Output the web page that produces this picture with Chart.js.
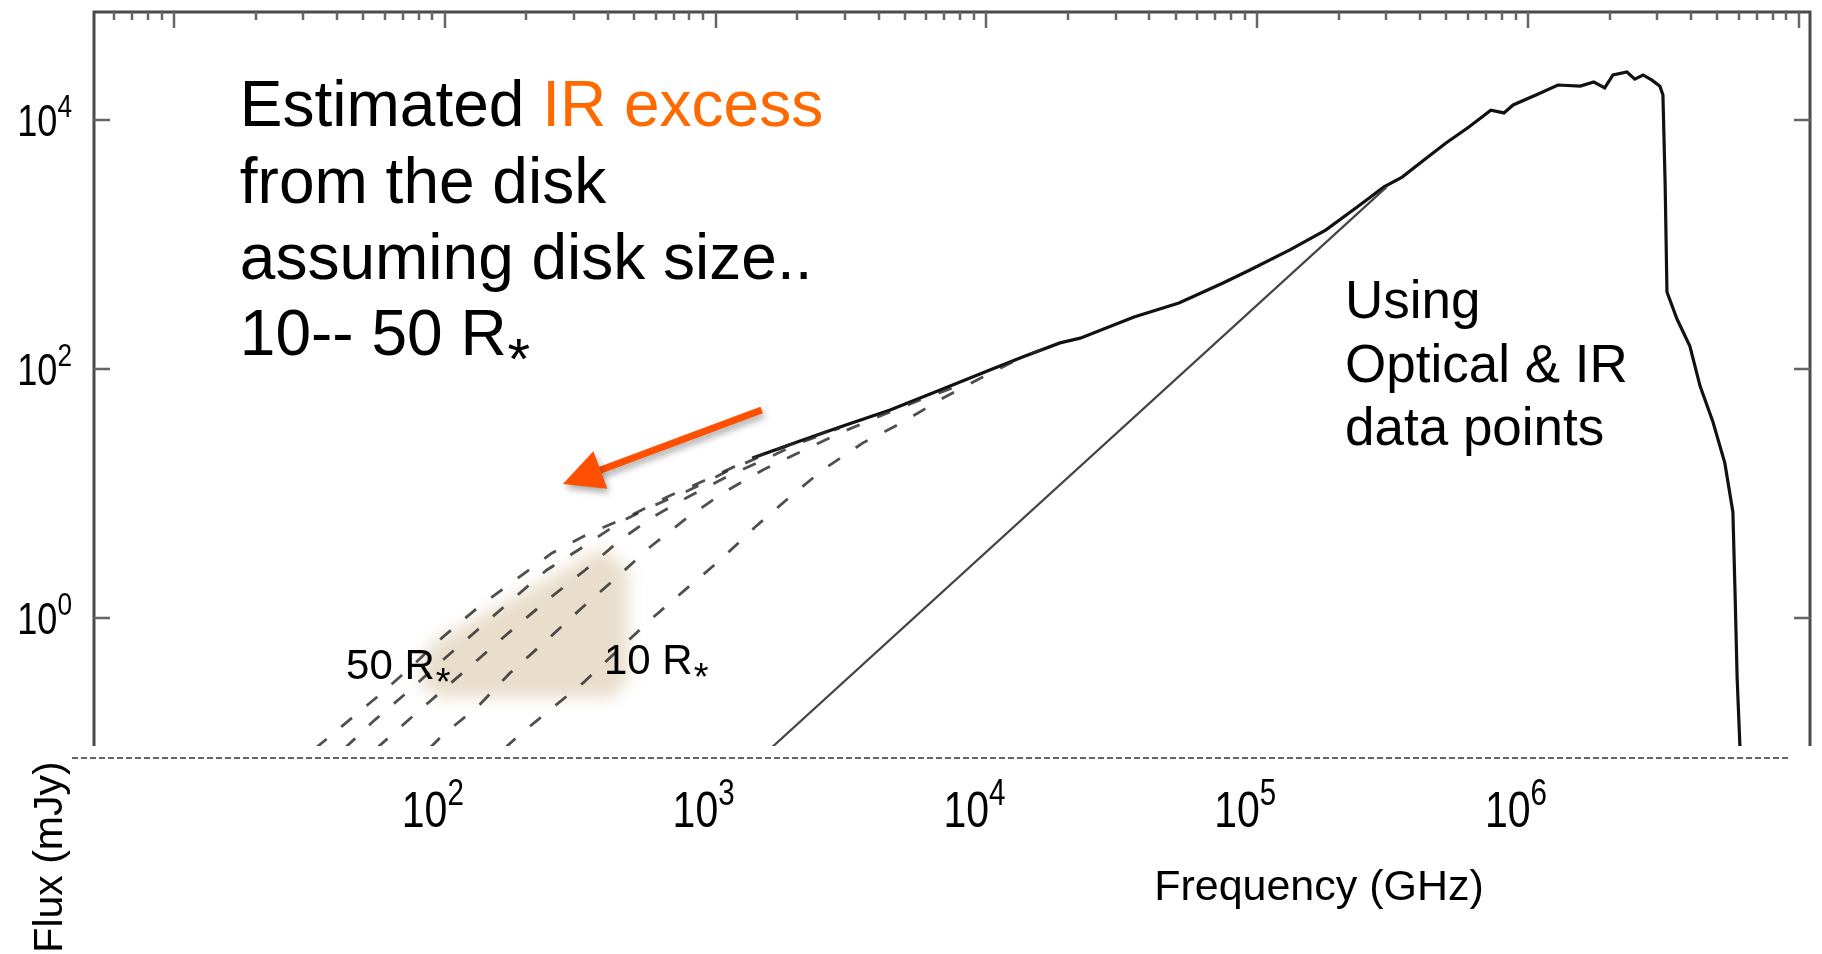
<!DOCTYPE html>
<html>
<head>
<meta charset="utf-8">
<title>Flux vs Frequency</title>
<script src="https://cdn.jsdelivr.net/npm/chart.js@4.4.1/dist/chart.umd.min.js"></script>
<style>
  html, body { margin: 0; padding: 0; background: #fff; }
  #wrap { width: 1822px; height: 954px; position: relative; }
</style>
</head>
<body>
<div id="wrap"><canvas id="sedChart"></canvas></div>
<script>
// frequency in GHz, flux in mJy
const mainFreq = [1370, 2050, 2880, 4410, 6750, 10300, 13600, 18700, 22200, 35100, 51400, 74800, 94000,
    132000, 179000, 234000, 294000, 343000, 413000, 498000, 605000, 729000, 815000, 881000,
    1.07e6, 1.29e6, 1.56e6, 1.75e6, 1.92e6, 2.06e6, 2.32e6, 2.48e6, 2.66e6, 2.87e6, 3.07e6, 3.15e6,
    3.21e6, 3.26e6, 3.55e6, 3.96e6, 4.32e6, 4.82e6, 5.33e6, 5.71e6, 5.81e6, 5.92e6, 6.07e6];
const mainFlux = [19.3, 26.4, 34.2, 46.9, 67.8, 98.2, 125, 162, 177, 262, 339, 491, 624,
    904, 1306, 2000, 2900, 3480, 4780, 6530, 8790, 12000, 11400, 13200,
    15900, 19100, 18700, 20200, 18100, 23000, 24300, 21300, 23000, 20900, 18700, 15900,
    3010, 415, 252, 153, 72.9, 37.5, 17.6, 7.10, 1.74, 0.330, 0.0871];

// stellar photosphere (straight line)
const starFreq = [1590, 301000];
const starFlux = [0.0887, 2900];

// disk models, 50 R* (c1) down to 10 R* (c5)
const c1Freq = [33.4, 41.0, 56.2, 74.3, 98.4, 133, 182, 249, 344, 483, 662, 977, 1370, 2050, 2880];
const c1Flux = [0.0904, 0.131, 0.232, 0.396, 0.703, 1.22, 2.02, 3.33, 4.82, 6.59, 9.38, 13.6, 19.3, 26.4, 34.2];
const c2Freq = [42.8, 55.2, 74.3, 98.4, 132, 177, 238, 324, 444, 587, 804, 1130, 1590, 2230];
const c2Flux = [0.0904, 0.152, 0.264, 0.460, 0.801, 1.40, 2.43, 3.72, 5.90, 7.94, 10.7, 15.5, 21.5, 27.9];
const c3Freq = [56.2, 74.3, 98.4, 132, 177, 240, 330, 444, 587, 791, 1100, 1500, 2050, 2880];
const c3Flux = [0.0904, 0.155, 0.264, 0.460, 0.801, 1.40, 2.43, 4.23, 6.47, 9.38, 13.6, 18.6, 25.5, 33.6];
const c4Freq = [88.1, 98.4, 132, 174, 238, 324, 433, 573, 791, 1080, 1500, 2050, 2880, 4050, 5690, 8000];
const c4Flux = [0.0904, 0.115, 0.193, 0.361, 0.665, 1.23, 2.13, 3.72, 6.47, 10.3, 15.5, 21.5, 30.6, 41.9, 56.4, 74.3];
const c5Freq = [167, 185, 244, 324, 433, 573, 771, 1040, 1400, 1880, 2490, 3500, 4920, 6920, 9700, 13600, 18700];
const c5Flux = [0.0904, 0.111, 0.182, 0.301, 0.543, 0.964, 1.68, 2.92, 5.38, 9.38, 15.5, 25.5, 37.5, 58.5, 86.3, 125, 162];

const xTickExps = [2, 3, 4, 5, 6];
const yTickExps = [0, 2, 4];

const xMin = 5.065, xMax = 1.1e7;
const yMin = 0.0937, yMax = 73700;

// annotation anchors in data units
const shadeFreq = [384, 475, 475, 414, 95.9, 80.9, 86.7];
const shadeFlux = [3.65, 2.43, 0.306, 0.228, 0.228, 0.290, 0.607];
const arrowFrom = { x: 1480, y: 46.9 };
const arrowTo = { x: 273, y: 11.9 };

const FONT = '"Liberation Sans", Arial, Helvetica, sans-serif';
const ORANGE = '#ff6a00';

function font(size) {
    return size + 'px ' + FONT;
}

function toPoints(xs, ys) {
    let pts = [];
    for (let i = 0; i < xs.length; i++) {
        pts.push({ x: xs[i], y: ys[i] });
    }
    return pts;
}

function dashedSet(label, xs, ys) {
    return {
        label: label,
        data: toPoints(xs, ys),
        showLine: true,
        borderColor: 'rgba(40,40,40,0.82)',
        borderWidth: 2.8,
        borderDash: [14, 19],
        pointRadius: 0
    };
}

// "10" with a raised exponent, slightly narrowed; y is the baseline
function drawPower(ctx, exp, x, y, size, align) {
    let squeeze = 0.82;
    let supSize = Math.round(size * 0.72);
    ctx.font = font(size);
    let wBase = ctx.measureText('10').width * squeeze;
    ctx.font = font(supSize);
    let wSup = ctx.measureText(String(exp)).width * squeeze;
    let left = x;
    if (align == 'right') left = x - wBase - wSup;
    if (align == 'center') left = x - (wBase + wSup) / 2;
    ctx.save();
    ctx.textAlign = 'left';
    ctx.translate(left, y);
    ctx.scale(squeeze, 1);
    ctx.font = font(size);
    ctx.fillText('10', 0, 0);
    ctx.font = font(supSize);
    ctx.fillText(String(exp), wBase / squeeze, -size * 0.44);
    ctx.restore();
}

// text ending in R followed by a low asterisk
function drawRStar(ctx, text, x, y, size) {
    ctx.textAlign = 'left';
    ctx.font = font(size);
    ctx.fillText(text, x, y);
    let w = ctx.measureText(text).width;
    let aSize = Math.round(size * 0.9);
    ctx.font = font(aSize);
    ctx.fillText('*', x + w + 1, y + aSize * 0.42);
}

const shadePlugin = {
    id: 'shade',
    beforeDatasetsDraw(chart) {
        const ctx = chart.ctx, xs = chart.scales.x, ys = chart.scales.y;
        ctx.save();
        ctx.filter = 'blur(8px)';
        ctx.fillStyle = 'rgba(224,208,182,0.7)';
        ctx.beginPath();
        for (let i = 0; i < shadeFreq.length; i++) {
            let px = xs.getPixelForValue(shadeFreq[i]);
            let py = ys.getPixelForValue(shadeFlux[i]);
            if (i == 0) ctx.moveTo(px, py); else ctx.lineTo(px, py);
        }
        ctx.closePath();
        ctx.fill();
        ctx.restore();
    }
};

const decorPlugin = {
    id: 'decor',
    afterDatasetsDraw(chart) {
        const ctx = chart.ctx, xs = chart.scales.x, ys = chart.scales.y;
        const area = chart.chartArea;
        ctx.save();

        // frame: top, left, right (the bottom was cut away)
        ctx.strokeStyle = '#4a4a4a';
        ctx.lineWidth = 3;
        ctx.beginPath();
        ctx.moveTo(area.left, area.bottom);
        ctx.lineTo(area.left, area.top);
        ctx.lineTo(area.right, area.top);
        ctx.lineTo(area.right, area.bottom);
        ctx.stroke();

        // inward ticks along the top
        ctx.strokeStyle = '#666';
        ctx.lineWidth = 2.5;
        for (let d = 0; d <= 7; d++) {
            for (let m = 1; m <= 9; m++) {
                let v = m * Math.pow(10, d);
                if (v < xMin || v > xMax) continue;
                let px = Math.round(xs.getPixelForValue(v));
                let len = (m == 1) ? 16 : 8;
                ctx.beginPath();
                ctx.moveTo(px, area.top);
                ctx.lineTo(px, area.top + len);
                ctx.stroke();
            }
        }
        // inward ticks on left and right
        for (let e of yTickExps) {
            let py = Math.round(ys.getPixelForValue(Math.pow(10, e)));
            ctx.beginPath();
            ctx.moveTo(area.left, py);
            ctx.lineTo(area.left + 16, py);
            ctx.moveTo(area.right, py);
            ctx.lineTo(area.right - 16, py);
            ctx.stroke();
        }

        ctx.fillStyle = '#000';
        ctx.textBaseline = 'alphabetic';

        // y tick labels
        for (let e of yTickExps) {
            let py = ys.getPixelForValue(Math.pow(10, e));
            drawPower(ctx, e, area.left - 22, py + 16, 44, 'right');
        }

        // dashed separator under the plot
        ctx.strokeStyle = '#333';
        ctx.lineWidth = 1.6;
        ctx.setLineDash([6, 3]);
        ctx.beginPath();
        ctx.moveTo(72, area.bottom + 12);
        ctx.lineTo(1790, area.bottom + 12);
        ctx.stroke();
        ctx.setLineDash([]);

        // x tick labels
        for (let e of xTickExps) {
            let px = xs.getPixelForValue(Math.pow(10, e));
            drawPower(ctx, e, px - 12, area.bottom + 81, 50, 'center');
        }

        // axis titles
        ctx.font = font(43);
        ctx.textAlign = 'center';
        ctx.fillText('Frequency (GHz)', 1319, 900);

        ctx.save();
        ctx.translate(62, 857);
        ctx.rotate(-Math.PI / 2);
        ctx.font = font(41);
        ctx.fillText('Flux (mJy)', 0, 0);
        ctx.restore();

        // annotation block, top left
        let tx = xs.getPixelForValue(17.5);
        let ty = ys.getPixelForValue(8950);
        ctx.textAlign = 'left';
        ctx.font = font(64);
        ctx.fillText('Estimated ', tx, ty);
        let w = ctx.measureText('Estimated ').width;
        ctx.fillStyle = ORANGE;
        ctx.fillText('IR excess', tx + w, ty);
        ctx.fillStyle = '#000';
        ctx.fillText('from the disk', tx, ty + 77);
        ctx.fillText('assuming disk size..', tx, ty + 153);
        drawRStar(ctx, '10-- 50 R', tx, ty + 229, 64);

        // annotation block, right
        let ux = xs.getPixelForValue(211000);
        let uy = ys.getPixelForValue(257);
        ctx.font = font(53);
        ctx.fillText('Using', ux, uy);
        ctx.fillText('Optical & IR', ux, uy + 64);
        ctx.fillText('data points', ux, uy + 127);

        // curve labels
        drawRStar(ctx, '50 R', xs.getPixelForValue(43.2), ys.getPixelForValue(0.324), 42);
        drawRStar(ctx, '10 R', xs.getPixelForValue(387), ys.getPixelForValue(0.355), 42);

        // orange arrow with a soft shadow
        let ax0 = xs.getPixelForValue(arrowFrom.x), ay0 = ys.getPixelForValue(arrowFrom.y);
        let ax1 = xs.getPixelForValue(arrowTo.x), ay1 = ys.getPixelForValue(arrowTo.y);
        let ang = Math.atan2(ay1 - ay0, ax1 - ax0);
        let headLen = 40, headHalf = 20;
        let bx = ax1 - headLen * Math.cos(ang), by = ay1 - headLen * Math.sin(ang);
        ctx.shadowColor = 'rgba(0,0,0,0.35)';
        ctx.shadowBlur = 7;
        ctx.shadowOffsetX = 2;
        ctx.shadowOffsetY = 4;
        ctx.fillStyle = '#ff4f00';
        ctx.strokeStyle = '#ff4f00';
        ctx.lineWidth = 7;
        ctx.beginPath();
        ctx.moveTo(ax0, ay0);
        ctx.lineTo(bx + 4 * Math.cos(ang), by + 4 * Math.sin(ang));
        ctx.stroke();
        ctx.beginPath();
        ctx.moveTo(ax1, ay1);
        ctx.lineTo(bx - headHalf * Math.sin(ang), by + headHalf * Math.cos(ang));
        ctx.lineTo(bx + headHalf * Math.sin(ang), by - headHalf * Math.cos(ang));
        ctx.closePath();
        ctx.fill();

        ctx.restore();
    }
};

const chart = new Chart(document.getElementById('sedChart'), {
    type: 'scatter',
    data: {
        datasets: [
            dashedSet('50 R*', c1Freq, c1Flux),
            dashedSet('c2', c2Freq, c2Flux),
            dashedSet('c3', c3Freq, c3Flux),
            dashedSet('c4', c4Freq, c4Flux),
            dashedSet('10 R*', c5Freq, c5Flux),
            {
                label: 'star',
                data: toPoints(starFreq, starFlux),
                showLine: true,
                borderColor: '#444',
                borderWidth: 2.2,
                pointRadius: 0
            },
            {
                label: 'SED',
                data: toPoints(mainFreq, mainFlux),
                showLine: true,
                borderColor: '#111',
                borderWidth: 3.2,
                pointRadius: 0
            }
        ]
    },
    options: {
        responsive: true,
        maintainAspectRatio: false,
        animation: false,
        layout: { padding: { left: 94, right: 12, top: 12, bottom: 208 } },
        plugins: {
            legend: { display: false },
            tooltip: { enabled: false }
        },
        scales: {
            x: { type: 'logarithmic', min: xMin, max: xMax, bounds: 'data', display: false },
            y: { type: 'logarithmic', min: yMin, max: yMax, bounds: 'data', display: false }
        }
    },
    plugins: [shadePlugin, decorPlugin]
});
</script>
</body>
</html>
